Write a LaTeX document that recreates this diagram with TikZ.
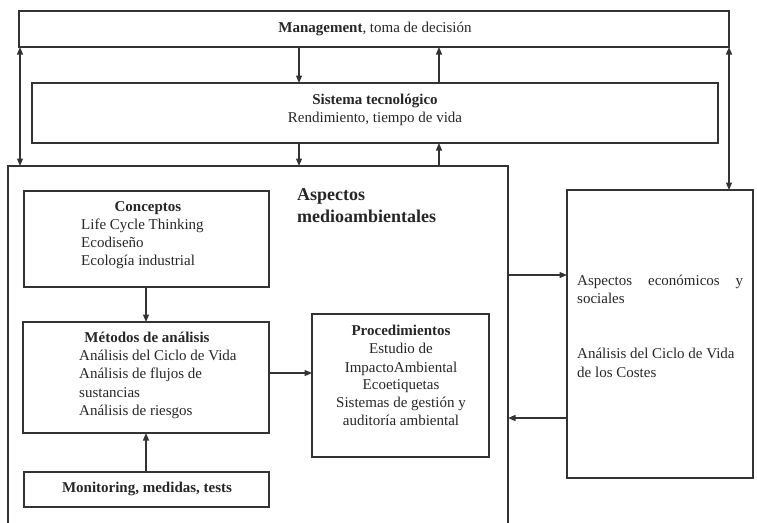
\documentclass[tikz,border=0pt]{standalone}
\usepackage{fontspec}
\setmainfont{Liberation Serif}
\usetikzlibrary{arrows.meta}
\begin{document}
\begin{tikzpicture}[x=1pt,y=-1pt,
  box/.style={draw=black!80, line width=1.3pt, inner sep=0pt, outer sep=0pt},
  tip/.tip={Triangle[length=7.5pt,width=6pt]},
  arr/.style={draw=black!80, line width=1.2pt, -tip},
  darr/.style={draw=black!80, line width=1.2pt, tip-tip},
  txt/.style={font=\fontsize{15}{18}\selectfont, text=black!85, inner sep=0pt, anchor=mid, yshift=-3pt},
  ltxt/.style={txt, anchor=mid west},
  big/.style={font=\fontsize{18}{22}\selectfont\bfseries, text=black!85, inner sep=0pt, anchor=mid west, yshift=-3pt}]
\useasboundingbox (0,0) rectangle (757,522);
% boxes
\node[box, minimum width=710pt, minimum height=36pt] (mgmt) at (374,29) {};
\node[box, minimum width=686pt, minimum height=60pt] (sist) at (375,113) {};
\node[box, minimum width=500pt, minimum height=394pt] (asp) at (258,363) {};
\node[box, minimum width=245pt, minimum height=96pt] (conc) at (146.5,239) {};
\node[box, minimum width=246pt, minimum height=111pt] (met) at (146,377.5) {};
\node[box, minimum width=245pt, minimum height=35pt] (mon) at (146.5,489.5) {};
\node[box, minimum width=177pt, minimum height=143pt] (proc) at (400.5,385.5) {};
\node[box, minimum width=186pt, minimum height=288pt] (econ) at (660,334) {};
% texts
\node[txt] (tm) at (375,27) {\textbf{Management}, toma de decisión};
\node[txt] (ts1) at (375,99) {\textbf{Sistema tecnológico}};
\node[txt] (ts2) at (375,117) {Rendimiento, tiempo de vida};
\node[big] (ta1) at (297,195) {Aspectos};
\node[big] (ta2) at (297,217) {medioambientales};
\node[txt] (tc0) at (148,206) {\textbf{Conceptos}};
\node[ltxt] (tc1) at (81,224) {Life Cycle Thinking};
\node[ltxt] (tc2) at (81,242) {Ecodiseño};
\node[ltxt] (tc3) at (81,260) {Ecología industrial};
\node[txt] (tm0) at (147,337) {\textbf{Métodos de análisis}};
\node[ltxt] (tm1) at (79,355) {Análisis del Ciclo de Vida};
\node[ltxt] (tm2) at (79,373) {Análisis de flujos de};
\node[ltxt] (tm3) at (79,392) {sustancias};
\node[ltxt] (tm4) at (79,410) {Análisis de riesgos};
\node[txt] (tmo) at (147,487) {\textbf{Monitoring, medidas, tests}};
\node[txt] (tp0) at (401,330) {\textbf{Procedimientos}};
\node[txt] (tp1) at (401,348) {Estudio de};
\node[txt] (tp2) at (401,367) {ImpactoAmbiental};
\node[txt] (tp3) at (401,384) {Ecoetiquetas};
\node[txt] (tp4) at (401,402) {Sistemas de gestión y};
\node[txt] (tp5) at (401,420) {auditoría ambiental};
\node[ltxt] (te1) at (577,280) {\makebox[166pt][s]{Aspectos\hfill económicos\hfill y}};
\node[ltxt] (te2) at (577,298) {sociales};
\node[ltxt] (te3) at (577,353) {Análisis del Ciclo de Vida};
\node[ltxt] (te4) at (577,372) {de los Costes};
% helper coordinates
\coordinate (xa) at (299,0);
\coordinate (xb) at (439,0);
\coordinate (xl) at (20,0);
\coordinate (xr) at (729,0);
\coordinate (xc) at (146,0);
\coordinate (ya) at (0,275);
\coordinate (yb) at (0,418);
\coordinate (yc) at (0,373);
% connectors
\draw[arr] (mgmt.south -| xa) -- (sist.north -| xa);
\draw[arr] (sist.north -| xb) -- (mgmt.south -| xb);
\draw[arr] (sist.south -| xa) -- (asp.north -| xa);
\draw[arr] (asp.north -| xb) -- (sist.south -| xb);
\draw[darr] (mgmt.south -| xl) -- (asp.north -| xl);
\draw[darr] (mgmt.south -| xr) -- (econ.north -| xr);
\draw[arr] (asp.east |- ya) -- (econ.west |- ya);
\draw[arr] (econ.west |- yb) -- (asp.east |- yb);
\draw[arr] (conc.south -| xc) -- (met.north -| xc);
\draw[arr] (mon.north -| xc) -- (met.south -| xc);
\draw[arr] (met.east |- yc) -- (proc.west |- yc);
\end{tikzpicture}
\end{document}
